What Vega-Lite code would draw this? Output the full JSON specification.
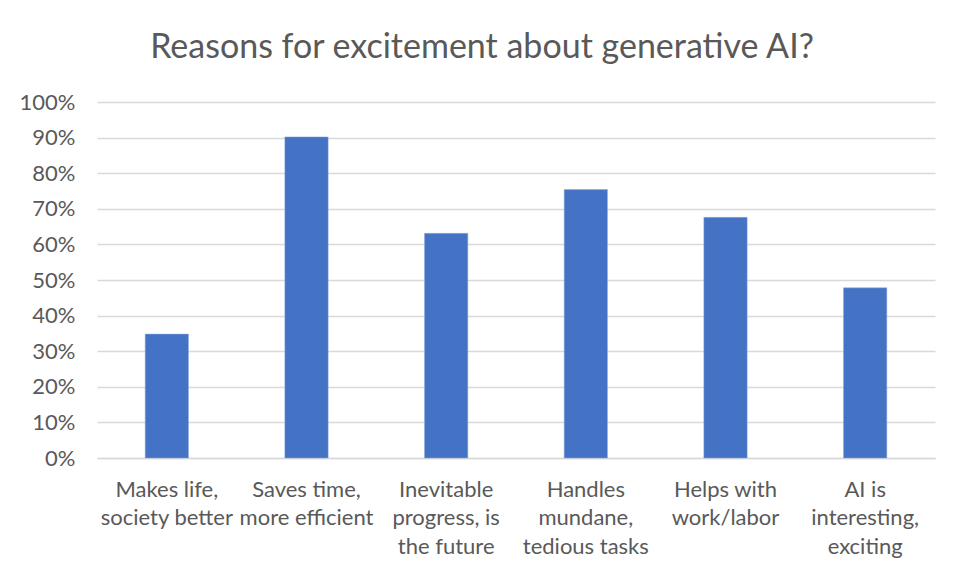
{
  "$schema": "https://vega.github.io/schema/vega-lite/v6.json",
  "width": 838,
  "height": 356,
  "autosize": {"type": "none"},
  "padding": {"left": 97, "top": 102, "right": 29, "bottom": 122},
  "background": "white",
  "title": {
    "text": "Reasons for excitement about generative AI?",
    "font": "Lato",
    "fontSize": 34,
    "fontWeight": "normal",
    "color": "#595959",
    "anchor": "middle",
    "dx": -34,
    "offset": 26
  },
  "data": {
    "values": [
      {"reason": "Makes life, society better", "share": 0.348},
      {"reason": "Saves time, more efficient", "share": 0.902},
      {"reason": "Inevitable progress, is the future", "share": 0.631},
      {"reason": "Handles mundane, tedious tasks", "share": 0.754},
      {"reason": "Helps with work/labor", "share": 0.676},
      {"reason": "AI is interesting, exciting", "share": 0.478}
    ]
  },
  "mark": {"type": "bar", "color": "#4472c4", "stroke": "#8faadc", "strokeWidth": 0.5},
  "encoding": {
    "x": {
      "field": "reason",
      "type": "nominal",
      "sort": null,
      "scale": {"paddingInner": 0.69, "paddingOuter": 0.345},
      "axis": {
        "title": null,
        "labelAngle": 0,
        "labelFont": "Lato",
        "labelFontSize": 22,
        "labelColor": "#595959",
        "labelPadding": 21,
        "labelLineHeight": 28.5,
        "labelLimit": 0,
        "labelOverlap": false,
        "ticks": false,
        "domainColor": "#d9d9d9",
        "domainWidth": 1.5,
        "labelExpr": "datum.value == 'Makes life, society better' ? ['Makes life,', 'society better'] : datum.value == 'Saves time, more efficient' ? ['Saves time,', 'more efficient'] : datum.value == 'Inevitable progress, is the future' ? ['Inevitable', 'progress, is', 'the future'] : datum.value == 'Handles mundane, tedious tasks' ? ['Handles', 'mundane,', 'tedious tasks'] : datum.value == 'Helps with work/labor' ? ['Helps with', 'work/labor'] : ['AI is', 'interesting,', 'exciting']"
      }
    },
    "y": {
      "field": "share",
      "type": "quantitative",
      "scale": {"domain": [0, 1], "nice": false},
      "axis": {
        "title": null,
        "format": ".0%",
        "values": [0, 0.1, 0.2, 0.3, 0.4, 0.5, 0.6, 0.7, 0.8, 0.9, 1],
        "labelFont": "Lato",
        "labelFontSize": 22,
        "labelColor": "#595959",
        "labelPadding": 22,
        "labelOverlap": false,
        "ticks": false,
        "domain": false,
        "gridColor": "#d9d9d9",
        "gridWidth": 1.5
      }
    }
  },
  "config": {
    "view": {"stroke": null}
  }
}
